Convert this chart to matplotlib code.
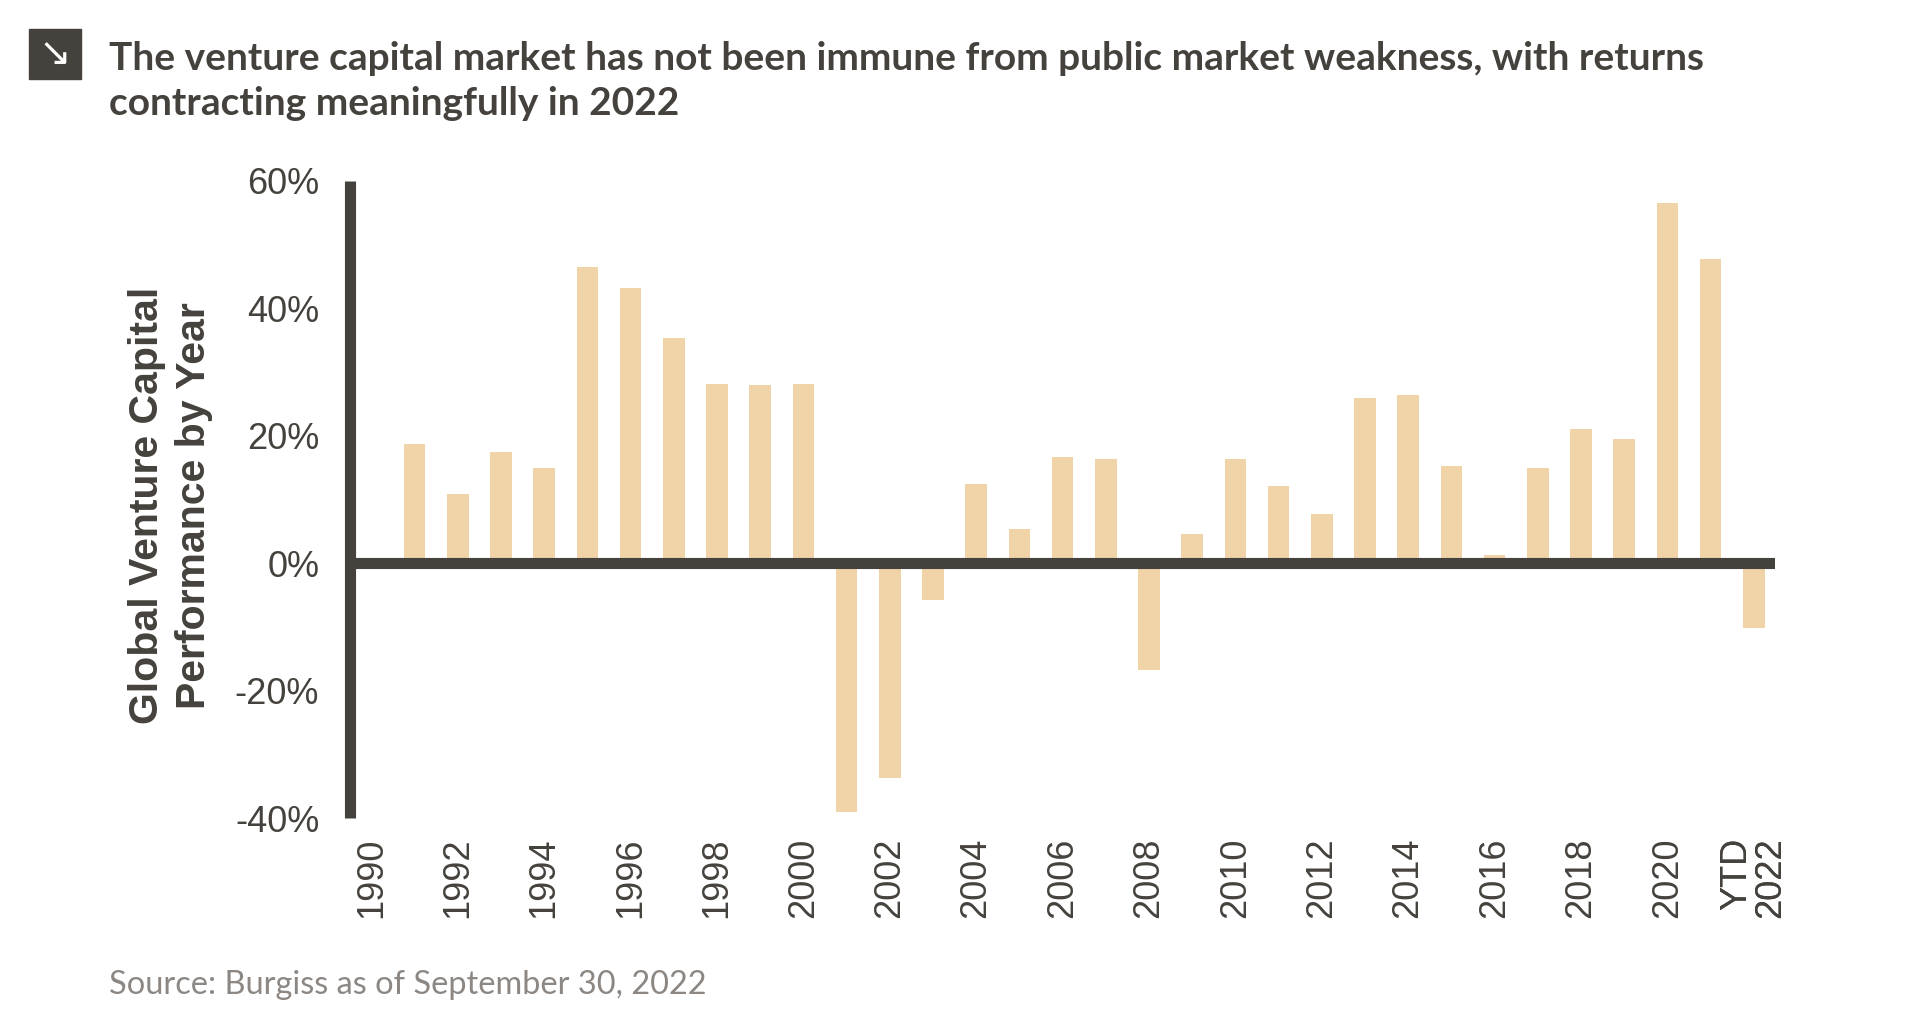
import numpy as np
import matplotlib
matplotlib.use("Agg")
import matplotlib.pyplot as plt
from matplotlib.patches import Rectangle

dark = '#45413c'
bar_color = '#f0d3a7'
grey = '#8c8783'

years = [str(y) for y in range(1990, 2022)] + ['YTD\n2022']
returns = [0.0, 18.7, 10.8, 17.5, 15.0, 46.5, 43.2, 35.3, 28.1, 28.0, 28.1,
           -39.1, -33.7, -5.8, 12.5, 5.4, 16.7, 16.3, -16.7, 4.6, 16.3,
           12.1, 7.7, 25.9, 26.4, 15.3, 1.3, 14.9, 21.0, 19.5, 56.5, 47.7,
           -10.1]
yticks = [-40, -20, 0, 20, 40, 60]

title_1 = 'The venture capital market has not been immune from public market weakness, with returns'
title_2 = 'contracting meaningfully in 2022'
ylabel = 'Global Venture Capital\nPerformance by Year'
source = 'Source: Burgiss as of September 30, 2022'

fig = plt.figure(figsize=(19.11, 10.33), dpi=100)
ax = fig.add_axes([0.183, 0.208, 0.746, 0.617])

x = np.arange(len(years))
ax.bar(x, returns, width=0.5, color=bar_color, zorder=2)
ax.axhline(0, color=dark, lw=8, zorder=3)

ax.set_xlim(-0.5, len(years) - 0.5)
ax.set_ylim(-40, 60)

for s in ['top', 'right', 'bottom']:
    ax.spines[s].set_visible(False)
ax.spines['left'].set_linewidth(8)
ax.spines['left'].set_color(dark)
ax.spines['left'].set_capstyle('butt')

ax.set_yticks(yticks)
ax.set_yticklabels([f'{v}%' for v in yticks], fontsize=26, color=dark,
                   family='Liberation Sans')
ax.set_xticks(x[::2].tolist() + [x[-1]])
xt = [years[i] for i in x[::2]] + [years[-1]]
ax.set_xticklabels(xt, rotation=90, fontsize=26, color=dark,
                   family='Liberation Sans', va='top', ha='center',
                   multialignment='right', linespacing=0.95)
ax.tick_params(axis='both', length=0)
ax.tick_params(axis='y', pad=22)
ax.tick_params(axis='x', pad=14)

fig.text(0.089, 0.511, ylabel, rotation=90, ha='center', va='center',
         fontsize=29.5, fontweight='bold', color=dark, family='Liberation Sans',
         linespacing=1.3)

# header
fig.patches.append(Rectangle((0.0154, 0.924), 0.0269, 0.0475,
                             transform=fig.transFigure, color=dark))
fig.text(0.0289, 0.9478, '\u2198', ha='center', va='center', color='white',
         fontsize=28, family='DejaVu Sans')
fig.text(0.057, 0.932, title_1, fontsize=28, fontweight='bold', color=dark,
         family='Lato', va='baseline')
fig.text(0.057, 0.889, title_2, fontsize=28, fontweight='bold', color=dark,
         family='Lato', va='baseline')

fig.text(0.057, 0.038, source, fontsize=23.4, color=grey, family='Lato',
         va='baseline')

plt.savefig('out.png', dpi=100)
